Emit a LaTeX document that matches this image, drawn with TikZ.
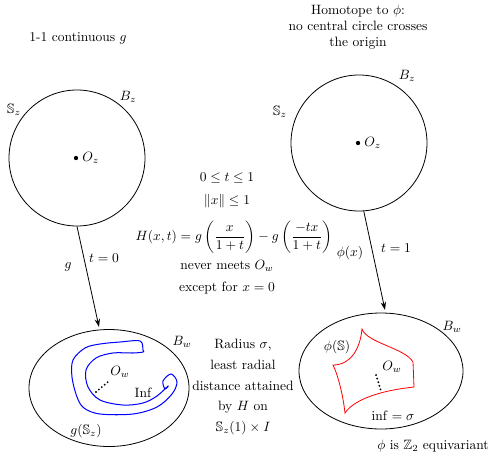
\documentclass[tikz,border=0pt]{standalone}
\usepackage{amsmath,amssymb}
\usetikzlibrary{arrows.meta,shapes.geometric}
\newlength\pxunit
\setlength\pxunit{0.74pt}
\tikzset{
  ballz/.style={circle,draw,line width=0.6pt,inner sep=0pt,minimum size=136\pxunit},
  ballw/.style={ellipse,draw,line width=0.6pt,inner sep=0pt},
  txt/.style={inner sep=1pt,align=center},
  maparrow/.style={line width=0.6pt,-{Stealth[length=6pt,width=4pt]}},
  centre/.style={circle,fill,inner sep=0pt,minimum size=3.2pt},
  radial/.style={line width=1.5pt,dash pattern=on 0pt off 2.8pt,line cap=round}
}
\begin{document}
\begin{tikzpicture}[x=\pxunit,y=-\pxunit]
\useasboundingbox (0,0) rectangle (492,457);
% titles
\node[txt] (t1) at (78,38) {1-1 continuous $g$};
\node[txt] (t2) at (358,27) {Homotope to $\phi$:\\ no central circle crosses\\ the origin};
% top balls
\node[ballz] (bz1) at (77,158) {};
\node[centre] (oz1) at (76,158) {};
\node[txt,anchor=west,xshift=1.8pt] (loz1) at (oz1.east) {$O_z$};
\node[txt] (lbz1) at (128,97) {$B_z$};
\node[txt] (lsz1) at (14,110) {$\mathbb{S}_z$};
\node[ballz] (bz2) at (359,143) {};
\node[centre] (oz2) at (358,143) {};
\node[txt,anchor=west,xshift=1.8pt] (loz2) at (oz2.east) {$O_z$};
\node[txt] (lbz2) at (407,76) {$B_z$};
\node[txt] (lsz2) at (280,112) {$\mathbb{S}_z$};
% bottom balls
\node[ballw,minimum width=160\pxunit,minimum height=117\pxunit] (bw1) at (109,388) {};
\node[ballw,minimum width=164\pxunit,minimum height=116\pxunit] (bw2) at (381,371) {};
\node[txt] (lbw1) at (182,342) {$B_w$};
\node[txt] (lbw2) at (452,327) {$B_w$};
% arrows
\coordinate (e1) at (99,327);
\coordinate (e2) at (385,310);
\draw[maparrow] (bz1.south) -- (e1);
\draw[maparrow] (bz2.-86) -- (e2);
\node[txt] (lg) at (68,267) {$g$};
\node[txt] (lt0) at (104,258) {$t=0$};
\node[txt] (lphi) at (350,253) {$\phi(x)$};
\node[txt] (lt1) at (396,248) {$t=1$};
% middle text
\node[txt] (m1) at (227,178) {$0\le t\le 1$};
\node[txt] (m2) at (227,201) {$\|x\|\le 1$};
\node[txt] (m3) at (234,237) {$H(x,t)=g\left(\dfrac{x}{1+t}\right)-g\left(\dfrac{-tx}{1+t}\right)$};
\node[txt] (m4) at (227,266) {never meets $O_w$};
\node[txt] (m5) at (227,288) {except for $x=0$};
\node[txt] (r1) at (243,387) {Radius $\sigma$,\\[3.5pt] least radial\\[3.5pt] distance attained\\[3.5pt] by $H$ on\\[3.5pt] $\mathbb{S}_z(1)\times I$};
% blue image curve
\draw[blue,line width=0.75pt] plot[smooth cycle,tension=0.55] coordinates {
 (143,350) (140,341) (120,342) (100,344) (85,348) (73,360) (72,377) (77,397)
 (84,408) (100,414) (133,414) (157,407) (172,394) (177,382) (171,374) (163,381)
 (165,389) (168,386) (157,396) (143,403) (123,405) (100,400) (88,387) (86,370)
 (96,358) (113,353) (133,353) (143,352)};
\node[txt] (low) at (120,372) {$O_w$};
\node[txt] (linf) at (143,393) {Inf};
\node[txt] (lgs) at (86,431) {$g(\mathbb{S}_z)$};
\coordinate (d1a) at (96,392);
\coordinate (d1b) at (109,381);
\draw[radial] (d1a) -- (d1b);
% red curve
\coordinate (T) at (362,329);
\coordinate (R1) at (413,362);
\coordinate (R2) at (414,387);
\coordinate (BL) at (345,413);
\coordinate (L) at (333,365);
\draw[red,line width=0.6pt] (T) .. controls (367,343) and (405,348) .. (R1)
  -- (R2) .. controls (385,390) and (355,398) .. (BL)
  .. controls (343,395) and (338,375) .. (L)
  .. controls (350,365) and (360,350) .. (T) -- cycle;
\node[txt] (lphis) at (337,347) {$\phi(\mathbb{S})$};
\node[txt] (low2) at (392,367) {$O_w$};
\node[txt] (linf2) at (393,416) {$\inf=\sigma$};
\coordinate (d2a) at (376,375);
\coordinate (d2b) at (381,391);
\draw[radial] (d2a) -- (d2b);
\node[txt] (leq) at (433,446) {$\phi$ is $\mathbb{Z}_2$ equivariant};
\end{tikzpicture}
\end{document}
